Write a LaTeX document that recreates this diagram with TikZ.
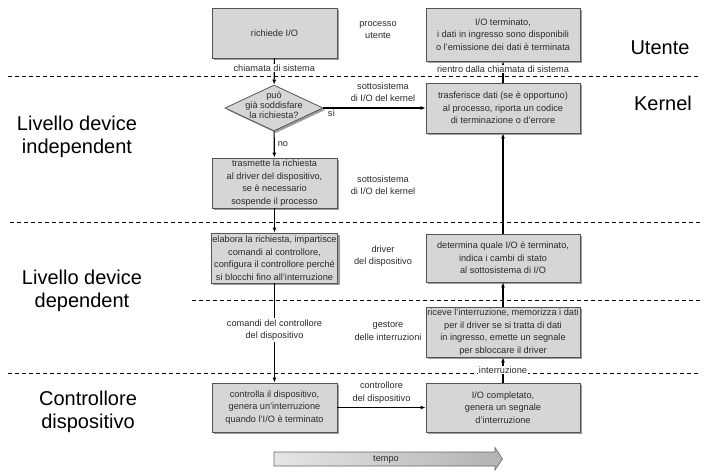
\documentclass[tikz,border=0pt]{standalone}
\usepackage{fontspec}
\setmainfont{Liberation Sans}
\usetikzlibrary{arrows.meta,shapes.geometric,shadows}
\definecolor{boxfill}{HTML}{D6D6D6}
\definecolor{boxline}{HTML}{555555}
\definecolor{ombra}{HTML}{9C9C9C}
\definecolor{testo}{HTML}{2A2A2A}
\newcommand{\Piccolo}{\fontsize{9.2}{12.5}\selectfont}
\newcommand{\Stretto}{\fontsize{9.2}{10}\selectfont}
\newcommand{\Grande}{\fontsize{20}{22.5}\selectfont}
\tikzset{
  passo/.style={draw=boxline, fill=boxfill, line width=0.8pt, align=center,
    inner sep=1pt, font=\Piccolo, text=testo,
    drop shadow={shadow xshift=2pt, shadow yshift=-2pt, fill=ombra, opacity=1}},
  passosx/.style={passo, minimum width=125pt},
  passodx/.style={passo, minimum width=154pt},
  scelta/.style={passo, diamond, inner sep=0pt, minimum width=98pt, minimum height=46pt},
  freccia/.style={-{Latex[length=5pt,width=4pt]}, line width=1.1pt},
  nota/.style={align=center, font=\Piccolo, text=testo, inner sep=1pt},
  notabianca/.style={nota, fill=white},
  livello/.style={align=center, font=\Grande},
  separa/.style={dash pattern=on 4pt off 3pt, line width=0.7pt},
}

\begin{document}
\begin{tikzpicture}[x=1pt, y=-1pt]
  \useasboundingbox (0,0) rectangle (704,473);

  % linee di separazione
  \draw[separa] (8,76) -- (700,76);
  \draw[separa] (10,222) -- (700,222);
  \draw[separa] (192,300) -- (700,300);
  \draw[separa] (8,373) -- (700,373);

  % livelli
  \node[livello] (utente) at (660,48) {Utente};
  \node[livello] (kernel) at (663,103) {Kernel};
  \node[livello] (indip) at (77,137) {Livello device\\independent};
  \node[livello] (dip) at (82,291) {Livello device\\dependent};
  \node[livello] (ctrl) at (88,412) {Controllore\\dispositivo};

  % passi
  \node[passosx, minimum height=50pt] (richiede) at (274.5,33) {richiede I/O};
  \node[passodx, minimum height=53pt] (termin) at (503,34.5)
    {I/O terminato,\\i dati in ingresso sono disponibili\\o l’emissione dei dati è terminata};
  \node[scelta] (domanda) at (274,108) {};
  \node[nota, font=\Stretto] (domandatesto) at (274,105) {può\\già soddisfare\\la richiesta?};
  \node[passodx, minimum height=50pt] (trasf) at (503,108)
    {trasferisce dati (se è opportuno)\\al processo, riporta un codice\\di terminazione o d’errore};
  \node[passosx, minimum height=50pt] (trasm) at (274.5,183)
    {trasmette la richiesta\\al driver del dispositivo,\\se è necessario\\sospende il processo};
  \node[passosx, minimum height=50pt] (elab) at (274.5,258)
    {elabora la richiesta, impartisce\\comandi al controllore,\\configura il controllore perché\\si blocchi fino all’interruzione};
  \node[passodx, minimum height=48pt] (determ) at (503,258)
    {determina quale I/O è terminato,\\indica i cambi di stato\\al sottosistema di I/O};
  \node[passodx, minimum height=50pt] (ricev) at (503,332)
    {riceve l’interruzione, memorizza i dati\\per il driver se si tratta di dati\\in ingresso, emette un segnale\\per sbloccare il driver};
  \node[passosx, minimum height=49pt] (contr) at (274.5,407.5)
    {controlla il dispositivo,\\genera un’interruzione\\quando l’I/O è terminato};
  \node[passodx, minimum height=49pt] (compl) at (503,407.5)
    {I/O completato,\\genera un segnale\\d’interruzione};

  % note di mezzo
  \node[nota] (processo) at (378,30) {processo\\utente};
  \node[nota] (sott1) at (383,92) {sottosistema\\di I/O del kernel};
  \node[nota] (sott2) at (383,185) {sottosistema\\di I/O del kernel};
  \node[nota] (driver) at (383,256) {driver\\del dispositivo};
  \node[nota] (gestore) at (388,331) {gestore\\delle interruzioni};

  % frecce
  \draw[freccia] (richiede) -- node[notabianca, pos=0.37] {chiamata di sistema} (domanda);
  \draw[freccia] (domanda.east) -- node[nota, pos=0, anchor=north west, xshift=3pt] {sì} (domanda.east -| trasf.west);
  \draw[freccia] (domanda) -- node[nota, right, xshift=2pt] {no} (trasm);
  \draw[freccia] (trasm) -- (elab);
  \draw[freccia] (elab) -- node[notabianca, pos=0.47] {comandi del controllore\\del dispositivo} (contr);
  \draw[freccia] (contr) -- node[nota, above=3pt] {controllore\\del dispositivo} (compl);
  \draw[freccia] (compl) -- node[notabianca] {interruzione} (ricev);
  \draw[freccia] (ricev) -- (determ);
  \draw[freccia] (determ) -- (trasf);
  \draw[freccia] (trasf) -- node[notabianca, pos=0.64] {rientro dalla chiamata di sistema} (termin);

  % tempo
  \shade[left color=gray!20, right color=gray!60, draw=gray!80!black, line width=0.6pt]
    (274,452) -- (495,452) -- (495,447.5) -- (502.5,459) -- (495,470) -- (495,466) -- (274,466) -- cycle;
  \node[nota] (tempo) at (386,459) {tempo};
\end{tikzpicture}
\end{document}
